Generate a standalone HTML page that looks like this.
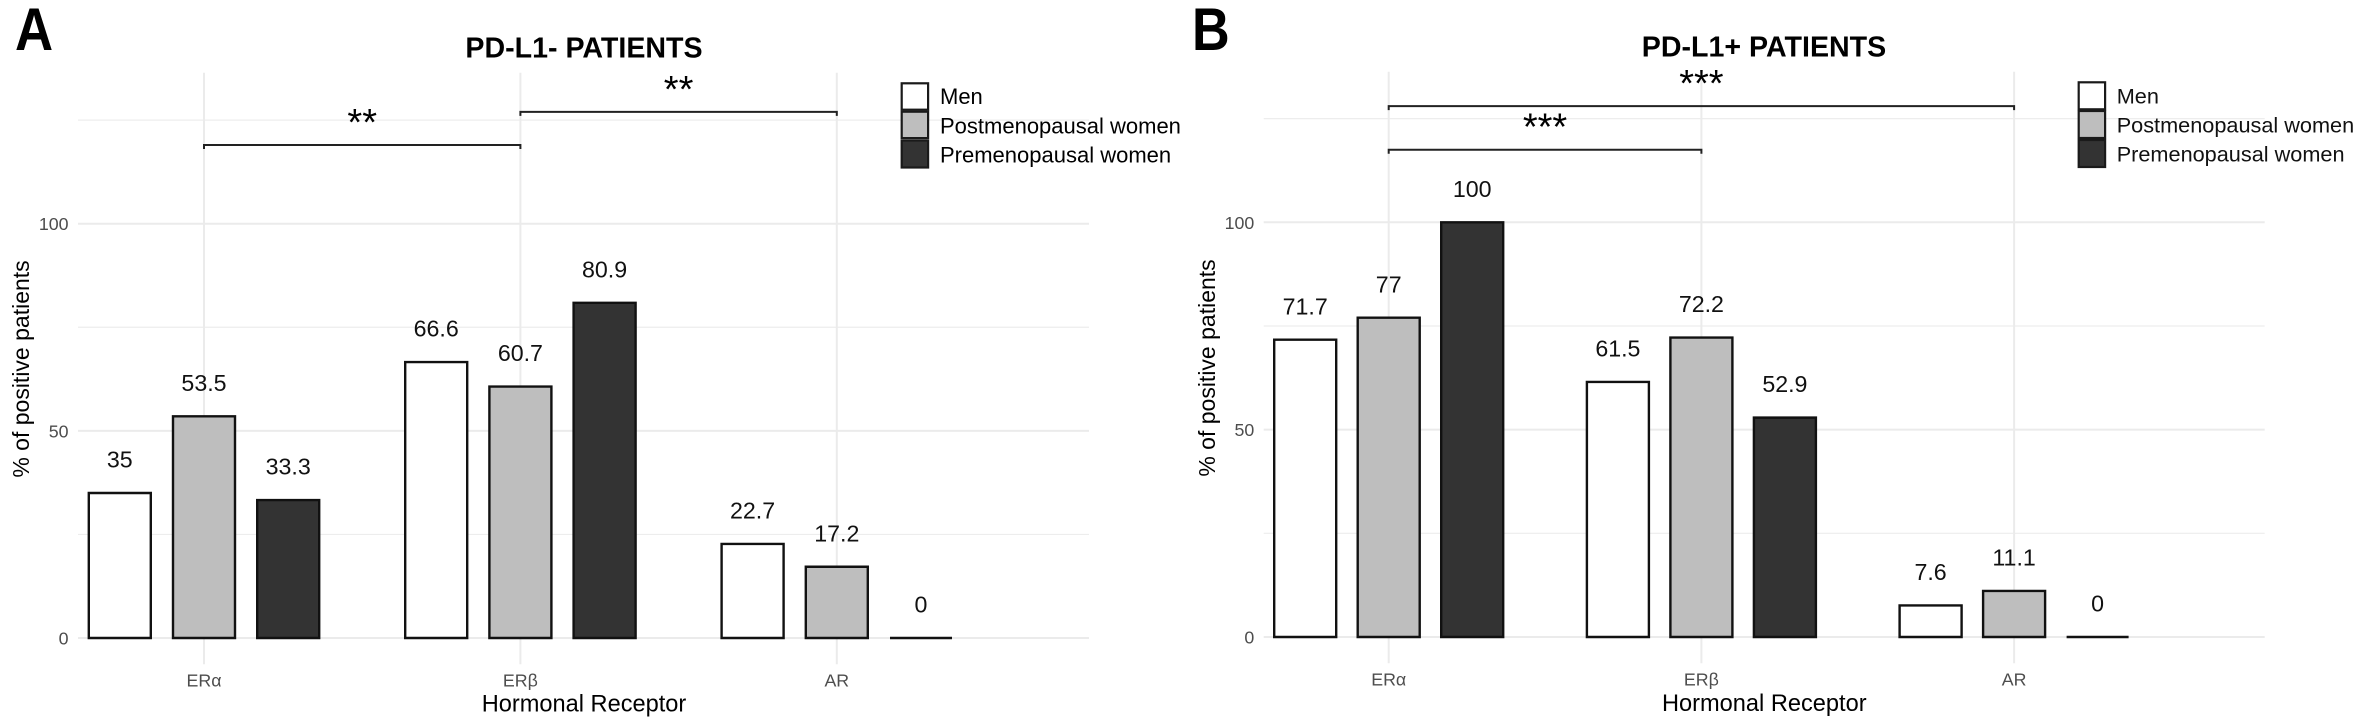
<!DOCTYPE html>
<html lang="en">
<head>
<meta charset="utf-8">
<title>Hormonal receptor expression by PD-L1 status</title>
<style>
html,body{margin:0;padding:0;background:#fff;}
svg{display:block;font-family:"Liberation Sans",Arial,sans-serif;}
</style>
</head>
<body>
<svg id="chart" xmlns="http://www.w3.org/2000/svg" width="2363" height="726" viewBox="0 0 2363 726">
  <rect x="0" y="0" width="2363" height="726" fill="#fff"/>
  <g id="panel-a-marks"></g>
  <g id="panel-b-marks"></g>

  <text transform="translate(15,50) scale(0.88,1)" font-size="60" font-weight="700" fill="#000">A</text>
  <text transform="translate(1192,50) scale(0.87,1)" font-size="60" font-weight="700" fill="#000">B</text>

  <text x="584" y="57.3" text-anchor="middle" font-size="28.6" font-weight="700" fill="#000">PD-L1- PATIENTS</text>
  <text x="1764" y="56.6" text-anchor="middle" font-size="28.6" font-weight="700" fill="#000">PD-L1+ PATIENTS</text>

  <text x="584" y="711.7" text-anchor="middle" font-size="23.6" fill="#000">Hormonal Receptor</text>
  <text x="1764.3" y="711" text-anchor="middle" font-size="23.6" fill="#000">Hormonal Receptor</text>

  <text transform="translate(29,369) rotate(-90)" text-anchor="middle" font-size="23" fill="#000">% of positive patients</text>
  <text transform="translate(1215,368) rotate(-90)" text-anchor="middle" font-size="23" fill="#000">% of positive patients</text>

  <g>
    <rect x="901.7" y="83.3" width="26.4" height="26.4" fill="#fff" stroke="#1a1a1a" stroke-width="2.2"/>
    <rect x="901.7" y="111.7" width="26.4" height="26.4" fill="#bebebe" stroke="#1a1a1a" stroke-width="2.2"/>
    <rect x="901.7" y="140.5" width="26.4" height="27" fill="#333" stroke="#1a1a1a" stroke-width="2.2"/>
    <text x="940" y="104" font-size="22" fill="#000">Men</text>
    <text x="940" y="133.3" font-size="22" fill="#000">Postmenopausal women</text>
    <text x="940" y="162.7" font-size="22" fill="#000">Premenopausal women</text>
  </g>
  <g>
    <rect x="2078.7" y="82.3" width="26.4" height="27" fill="#fff" stroke="#1a1a1a" stroke-width="2.2"/>
    <rect x="2078.7" y="111" width="26.4" height="27" fill="#bebebe" stroke="#1a1a1a" stroke-width="2.2"/>
    <rect x="2078.7" y="140" width="26.4" height="27" fill="#333" stroke="#1a1a1a" stroke-width="2.2"/>
    <text x="2116.7" y="103.3" font-size="21.7" fill="#111">Men</text>
    <text x="2116.7" y="132.3" font-size="21.7" fill="#111">Postmenopausal women</text>
    <text x="2116.7" y="161.7" font-size="21.7" fill="#111">Premenopausal women</text>
  </g>
</svg>
<script>
const categories = ['ER\u03b1', 'ER\u03b2', 'AR'];
const majorTicks = [0, 50, 100];
const minorTicks = [25, 75, 125];

const panelAMen = [35, 66.6, 22.7];
const panelAPost = [53.5, 60.7, 17.2];
const panelAPre = [33.3, 80.9, 0];

const panelBMen = [71.7, 61.5, 7.6];
const panelBPost = [77, 72.2, 11.1];
const panelBPre = [100, 52.9, 0];

const panelABracketFrom = [0, 1];
const panelABracketTo = [1, 2];
const panelABracketLevel = [119, 127];
const panelABracketStars = ['**', '**'];

const panelBBracketFrom = [0, 0];
const panelBBracketTo = [2, 1];
const panelBBracketLevel = [128, 117.5];
const panelBBracketStars = ['***', '***'];

const seriesFills = ['#ffffff', '#bebebe', '#333333'];

const SVG_NS = 'http://www.w3.org/2000/svg';

function make(tag, geometry, parent) {
  const node = document.createElementNS(SVG_NS, tag);
  for (const key in geometry) node.setAttribute(key, geometry[key]);
  parent.appendChild(node);
  return node;
}

function drawPanel(root, frame, seriesList, bracketFrom, bracketTo, bracketLevel, bracketStars) {
  const yScale = v => frame.zeroY - v * frame.unitY;
  const xScale = i => frame.firstX + i * frame.stepX;

  minorTicks.forEach(t => {
    const line = make('line', {x1: frame.left, x2: frame.right, y1: yScale(t), y2: yScale(t), stroke: '#ededed', 'stroke-width': 1.2}, root);
    
    
  });
  majorTicks.forEach(t => {
    const line = make('line', {x1: frame.left, x2: frame.right, y1: yScale(t), y2: yScale(t), stroke: '#ebebeb', 'stroke-width': 2}, root);
    
    
    const label = make('text', {x: frame.tickRight, y: yScale(t) + 6.5, 'text-anchor': 'end', 'font-size': 17.8, fill: '#4d4d4d'}, root);
    label.textContent = String(t);
    
    
  });
  categories.forEach((c, i) => {
    const line = make('line', {x1: xScale(i), x2: xScale(i), y1: frame.top, y2: frame.bottom, stroke: '#ebebeb', 'stroke-width': 2}, root);
    
    
    const label = make('text', {x: xScale(i), y: frame.bottom + 22.4, 'text-anchor': 'middle', 'font-size': 17.8, fill: '#4d4d4d'}, root);
    label.textContent = c;
    
    
  });

  seriesList.forEach((values, s) => {
    values.forEach((v, i) => {
      const cx = xScale(i) + (s - 1) * frame.offsetX;
      const top = yScale(v);
      const d = 'M' + (cx - 31) + ' ' + frame.zeroY + 'V' + top + 'H' + (cx + 31) + 'V' + frame.zeroY + 'Z';
      const bar = make('path', {d: d, fill: seriesFills[s], stroke: '#111', 'stroke-width': 2.4}, root);
      
      
      const label = make('text', {x: cx, y: top - 25.4, 'text-anchor': 'middle', 'font-size': 23.2, fill: '#111'}, root);
      label.textContent = String(v);
      
      
    });
  });

  bracketLevel.forEach((level, b) => {
    const x1 = xScale(bracketFrom[b]);
    const x2 = xScale(bracketTo[b]);
    const y = yScale(level);
    const path = make('path', {d: 'M' + x1 + ' ' + (y + 4) + 'V' + y + 'H' + x2 + 'V' + (y + 4), fill: 'none', stroke: '#222', 'stroke-width': 2}, root);
    
    
    const stars = make('text', {x: (x1 + x2) / 2, y: y - 10, 'text-anchor': 'middle', 'font-size': 38, fill: '#000'}, root);
    stars.textContent = bracketStars[b];
    
    
  });
}

drawPanel(document.getElementById('panel-a-marks'),
  {zeroY: 638, unitY: 4.143, firstX: 204, stepX: 316.4, offsetX: 84.2, left: 78, right: 1089, top: 72.7, bottom: 664.3, tickRight: 68.5},
  [panelAMen, panelAPost, panelAPre], panelABracketFrom, panelABracketTo, panelABracketLevel, panelABracketStars);

drawPanel(document.getElementById('panel-b-marks'),
  {zeroY: 637, unitY: 4.147, firstX: 1388.7, stepX: 312.7, offsetX: 83.5, left: 1263.7, right: 2264.7, top: 71.7, bottom: 663.3, tickRight: 1254.3},
  [panelBMen, panelBPost, panelBPre], panelBBracketFrom, panelBBracketTo, panelBBracketLevel, panelBBracketStars);
</script>
</body>
</html>
